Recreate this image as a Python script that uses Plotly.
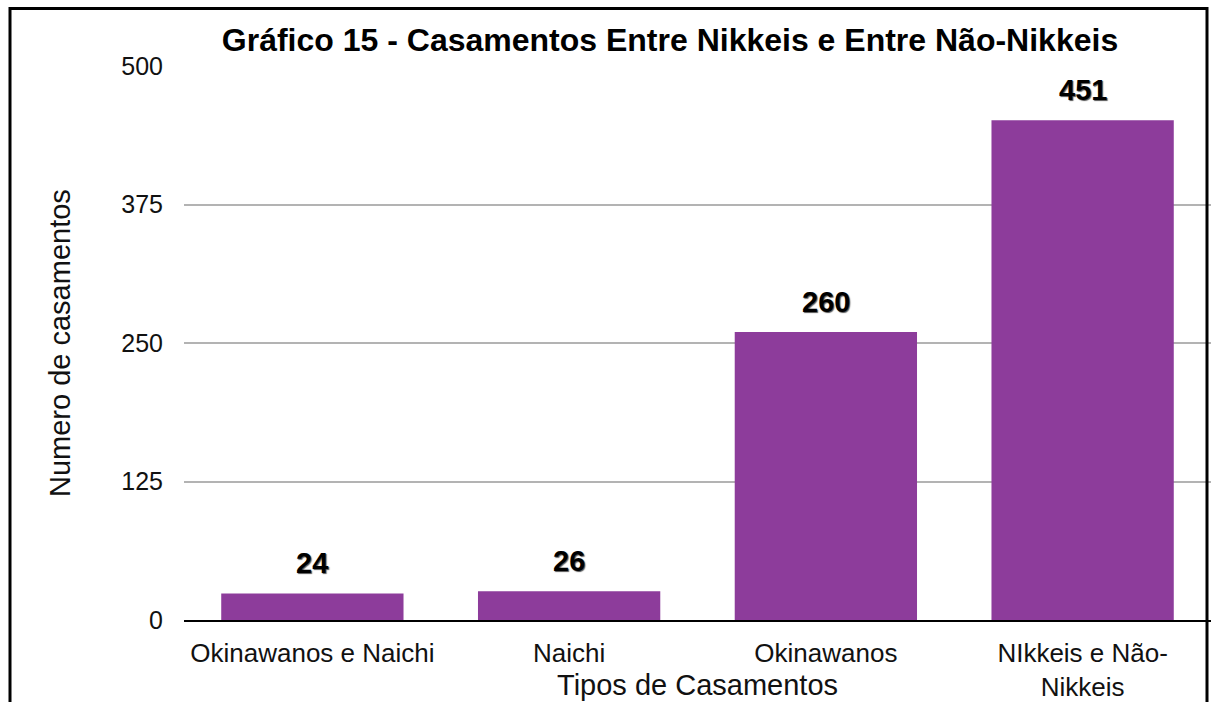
import plotly.graph_objects as go

# Wedding counts by type of couple
categories = ["Okinawanos e Naichi", "Naichi", "Okinawanos", "NIkkeis e Não-<br>Nikkeis"]
values = [24, 26, 260, 451]
tick_values = [0, 125, 250, 375, 500]
tick_labels = ["0", "125", "250", "375", "500"]

FONT = "Liberation Sans, Arial, Helvetica, sans-serif"
BAR_COLOR = "#8d3c9b"

fig = go.Figure()
fig.add_trace(go.Bar(
    x=categories,
    y=values,
    marker=dict(color=BAR_COLOR, line=dict(width=0)),
    hoverinfo="skip",
))

# value labels above each bar
for cat, val in zip(categories, values):
    fig.add_annotation(
        x=cat, y=val, text=f"<b>{val}</b>", showarrow=False,
        yanchor="middle", yshift=30,
        font=dict(family=FONT, size=29, color="#000000", shadow="1px 1px 1px #555555"),
    )

# axis titles
fig.add_annotation(
    xref="paper", yref="paper", x=-0.1207, y=0.5, text="Numero de casamentos",
    textangle=-90, showarrow=False, xanchor="center", yanchor="middle",
    font=dict(family=FONT, size=29, color="#111111"),
)
fig.add_annotation(
    xref="paper", yref="paper", x=0.5, y=-0.1173, text="Tipos de Casamentos",
    showarrow=False, xanchor="center", yanchor="middle",
    font=dict(family=FONT, size=29, color="#111111"),
)

# outer frame
fig.add_shape(
    type="rect", xref="paper", yref="paper",
    x0=(10 - 184) / 1027, x1=(1207 - 184) / 1027,
    y0=-0.2, y1=(620 - 8.5) / 554,
    line=dict(color="#000000", width=3), fillcolor="rgba(0,0,0,0)",
    layer="above",
)

fig.update_layout(
    width=1211, height=702,
    margin=dict(l=184, r=0, t=66, b=82, autoexpand=False),
    paper_bgcolor="#ffffff", plot_bgcolor="#ffffff",
    bargap=0.29,
    showlegend=False,
    title=dict(
        text="<b>Gráfico 15 - Casamentos Entre Nikkeis e Entre Não-Nikkeis</b>",
        x=670 / 1211, xanchor="center", xref="container",
        y=1 - 40 / 702, yanchor="middle", yref="container",
        font=dict(family=FONT, size=32, color="#000000"),
    ),
    xaxis=dict(
        type="category",
        showgrid=False, zeroline=False,
        showline=True, linecolor="#000000", linewidth=2,
        ticks="", ticklabelstandoff=9,
        tickfont=dict(family=FONT, size=26, color="#111111"),
    ),
    yaxis=dict(
        range=[0, 500],
        tickvals=tick_values, ticktext=tick_labels,
        showgrid=True, gridcolor="#b3b3b3", gridwidth=1.5,
        zeroline=False, showline=False,
        ticks="", ticklabelstandoff=20,
        tickfont=dict(family=FONT, size=25, color="#111111"),
    ),
)

fig.write_html("out.html")
